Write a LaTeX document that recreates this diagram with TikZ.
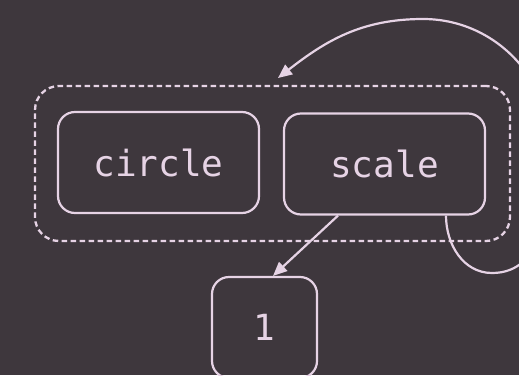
\documentclass[tikz,border=0pt]{standalone}
\usepackage{fontspec}
\setmonofont{DejaVu Sans Mono}
\usetikzlibrary{arrows.meta}
\definecolor{bgc}{HTML}{3E373D}
\definecolor{ink}{HTML}{E6D3E5}
\tikzset{
  box/.style={draw=ink, line width=2.2bp, rounded corners=17bp, text=ink,
    font=\ttfamily\fontsize{36bp}{40bp}\selectfont, inner sep=0pt},
  group/.style={draw=ink, line width=2.3bp, rounded corners=24bp, dash pattern=on 5.5bp off 3.5bp},
  link/.style={draw=ink, line width=2.2bp, -{Triangle[length=14bp,width=12bp]}},
}
\begin{document}
\begin{tikzpicture}[x=1bp,y=1bp]
  \fill[bgc] (0,0) rectangle (519,375);
  \useasboundingbox (0,0) rectangle (519,375);
  \node[group, minimum width=475bp, minimum height=155bp] (grp) at (272.5,211.5) {};
  \node[box, minimum width=201bp, minimum height=101bp] (circ) at (158.5,212.5) {circle};
  \node[box, minimum width=201bp, minimum height=101bp] (scl) at (384.5,211) {scale};
  \node[box, minimum width=105bp, minimum height=101bp] (one) at (264.5,47.5) {1};
  \draw[link] ([xshift=-46.5bp]scl.south) -- ([xshift=8.5bp]one.north);
  \draw[link] ([xshift=61.5bp]scl.south) to[out=-90,in=180] (492,102)
     to[out=0,in=-90] (550,228) to[out=90,in=0] (423,356) to[out=180,in=38] (278,297);
\end{tikzpicture}
\end{document}
